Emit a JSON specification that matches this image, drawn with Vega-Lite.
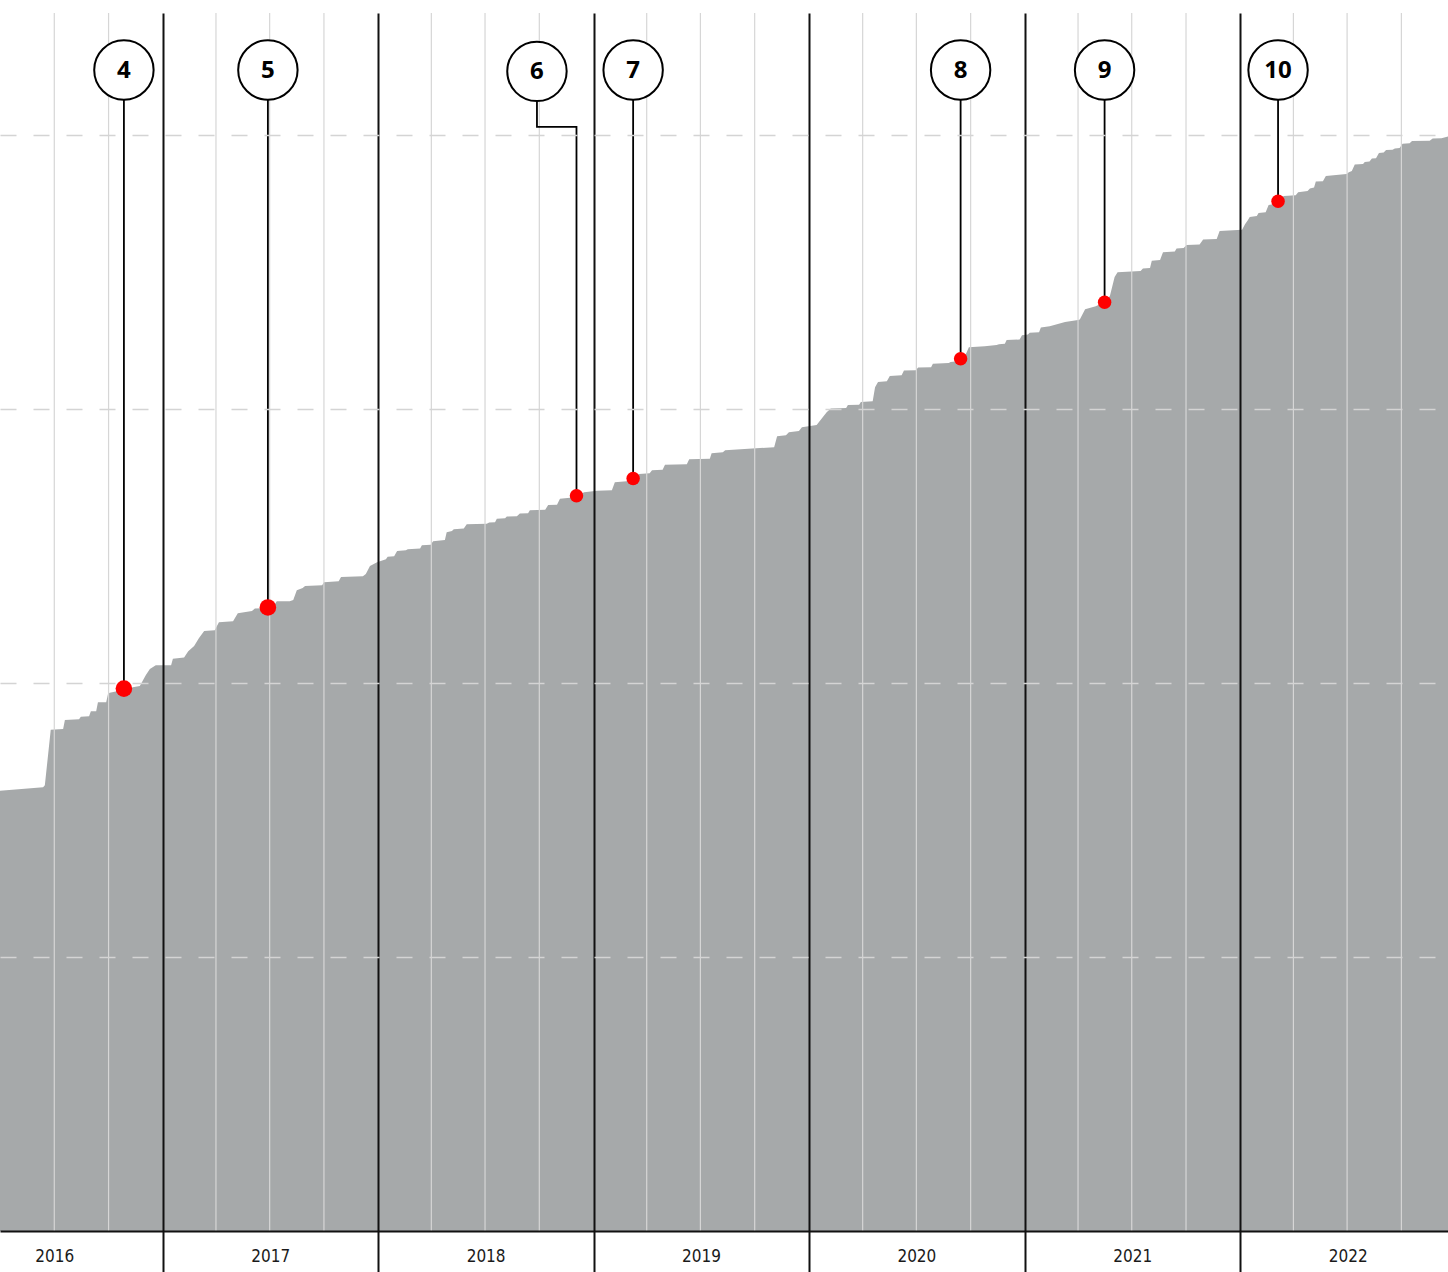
{
  "$schema": "https://vega.github.io/schema/vega-lite/v6.json",
  "autosize": {"type": "none"},
  "width": 1448,
  "height": 1218,
  "padding": {"left": 0, "right": 0, "top": 13, "bottom": 41},
  "background": "white",
  "config": {"view": {"stroke": null}},
  "datasets": {
    "curve": [
      {"date":"2016-03-31","value":1607},{"date":"2016-06-12","value":1620},{"date":"2016-06-15","value":1627},{"date":"2016-06-25","value":1830},
      {"date":"2016-07-16","value":1832},{"date":"2016-07-19","value":1865},{"date":"2016-08-12","value":1868},{"date":"2016-08-15","value":1877},
      {"date":"2016-08-29","value":1879},{"date":"2016-09-01","value":1897},{"date":"2016-09-10","value":1897},{"date":"2016-09-13","value":1930},
      {"date":"2016-09-27","value":1930},{"date":"2016-09-30","value":1960},{"date":"2016-10-03","value":1965},{"date":"2016-10-15","value":1970},
      {"date":"2016-10-27","value":1980},{"date":"2016-11-08","value":1981},{"date":"2016-11-11","value":1985},{"date":"2016-11-23","value":1989},
      {"date":"2016-12-03","value":2029},{"date":"2016-12-10","value":2051},{"date":"2016-12-20","value":2065},{"date":"2017-01-15","value":2065},
      {"date":"2017-01-18","value":2089},{"date":"2017-02-06","value":2093},{"date":"2017-02-13","value":2116},{"date":"2017-02-23","value":2135},
      {"date":"2017-03-03","value":2164},{"date":"2017-03-12","value":2190},{"date":"2017-03-30","value":2193},{"date":"2017-04-06","value":2222},
      {"date":"2017-04-30","value":2226},{"date":"2017-05-08","value":2255},{"date":"2017-06-01","value":2263},{"date":"2017-06-06","value":2272},
      {"date":"2017-06-20","value":2273},{"date":"2017-07-02","value":2277},{"date":"2017-07-08","value":2281},{"date":"2017-07-13","value":2299},
      {"date":"2017-08-04","value":2299},{"date":"2017-08-10","value":2303},{"date":"2017-08-16","value":2339},{"date":"2017-08-26","value":2347},
      {"date":"2017-08-30","value":2354},{"date":"2017-09-28","value":2357},{"date":"2017-10-01","value":2368},{"date":"2017-10-26","value":2372},
      {"date":"2017-10-30","value":2387},{"date":"2017-12-06","value":2390},{"date":"2017-12-11","value":2398},{"date":"2017-12-18","value":2427},
      {"date":"2017-12-30","value":2441},{"date":"2018-01-14","value":2452},{"date":"2018-01-17","value":2461},{"date":"2018-01-28","value":2463},
      {"date":"2018-02-02","value":2482},{"date":"2018-02-17","value":2485},{"date":"2018-02-20","value":2489},{"date":"2018-03-13","value":2491},
      {"date":"2018-03-16","value":2503},{"date":"2018-03-31","value":2505},{"date":"2018-04-04","value":2518},{"date":"2018-04-24","value":2522},
      {"date":"2018-04-27","value":2551},{"date":"2018-05-06","value":2555},{"date":"2018-05-09","value":2562},{"date":"2018-05-26","value":2564},
      {"date":"2018-05-31","value":2580},{"date":"2018-07-04","value":2582},{"date":"2018-07-08","value":2586},{"date":"2018-07-18","value":2587},
      {"date":"2018-07-21","value":2600},{"date":"2018-08-04","value":2602},{"date":"2018-08-07","value":2608},{"date":"2018-08-24","value":2609},
      {"date":"2018-08-29","value":2619},{"date":"2018-09-12","value":2620},{"date":"2018-09-15","value":2631},{"date":"2018-10-11","value":2633},
      {"date":"2018-10-16","value":2650},{"date":"2018-10-31","value":2651},{"date":"2018-11-05","value":2673},{"date":"2018-11-22","value":2677},
      {"date":"2018-12-04","value":2684},{"date":"2018-12-16","value":2697},{"date":"2019-01-07","value":2702},{"date":"2019-02-01","value":2704},
      {"date":"2019-02-06","value":2733},{"date":"2019-02-26","value":2737},{"date":"2019-03-09","value":2746},{"date":"2019-03-19","value":2763},
      {"date":"2019-04-06","value":2766},{"date":"2019-04-10","value":2777},{"date":"2019-04-28","value":2779},{"date":"2019-05-02","value":2797},
      {"date":"2019-06-08","value":2799},{"date":"2019-06-12","value":2817},{"date":"2019-07-17","value":2819},{"date":"2019-07-20","value":2839},
      {"date":"2019-08-08","value":2843},{"date":"2019-08-12","value":2850},{"date":"2019-10-10","value":2858},{"date":"2019-11-03","value":2861},
      {"date":"2019-11-08","value":2901},{"date":"2019-11-23","value":2905},{"date":"2019-11-28","value":2916},{"date":"2019-12-15","value":2920},
      {"date":"2019-12-20","value":2934},{"date":"2020-01-03","value":2938},{"date":"2020-01-14","value":2942},{"date":"2020-01-23","value":2967},
      {"date":"2020-01-31","value":2989},{"date":"2020-02-07","value":3002},{"date":"2020-03-04","value":3004},{"date":"2020-03-07","value":3015},
      {"date":"2020-03-26","value":3016},{"date":"2020-03-29","value":3026},{"date":"2020-04-18","value":3029},{"date":"2020-04-22","value":3080},
      {"date":"2020-04-27","value":3099},{"date":"2020-05-12","value":3102},{"date":"2020-05-17","value":3121},{"date":"2020-06-06","value":3124},
      {"date":"2020-06-10","value":3141},{"date":"2020-06-30","value":3142},{"date":"2020-07-04","value":3152},{"date":"2020-07-26","value":3153},
      {"date":"2020-07-29","value":3166},{"date":"2020-08-25","value":3168},{"date":"2020-08-28","value":3172},{"date":"2020-09-09","value":3175},
      {"date":"2020-09-14","value":3184},{"date":"2020-09-23","value":3201},{"date":"2020-09-28","value":3226},{"date":"2020-10-25","value":3230},
      {"date":"2020-11-14","value":3234},{"date":"2020-11-18","value":3237},{"date":"2020-11-28","value":3239},{"date":"2020-12-01","value":3252},
      {"date":"2020-12-23","value":3254},{"date":"2020-12-27","value":3270},{"date":"2021-01-06","value":3272},{"date":"2021-01-09","value":3279},
      {"date":"2021-01-25","value":3281},{"date":"2021-01-28","value":3298},{"date":"2021-02-12","value":3303},{"date":"2021-03-10","value":3318},
      {"date":"2021-04-01","value":3325},{"date":"2021-04-04","value":3327},{"date":"2021-04-13","value":3365},{"date":"2021-05-01","value":3376},
      {"date":"2021-05-16","value":3391},{"date":"2021-05-25","value":3413},{"date":"2021-06-02","value":3482},{"date":"2021-06-07","value":3500},
      {"date":"2021-07-16","value":3504},{"date":"2021-07-20","value":3513},{"date":"2021-08-01","value":3515},{"date":"2021-08-04","value":3542},
      {"date":"2021-08-18","value":3544},{"date":"2021-08-23","value":3573},{"date":"2021-09-12","value":3575},{"date":"2021-09-15","value":3586},
      {"date":"2021-09-27","value":3588},{"date":"2021-10-02","value":3599},{"date":"2021-10-24","value":3601},{"date":"2021-10-30","value":3619},
      {"date":"2021-11-22","value":3621},{"date":"2021-11-27","value":3650},{"date":"2022-01-04","value":3655},{"date":"2022-01-09","value":3675},
      {"date":"2022-01-14","value":3690},{"date":"2022-01-17","value":3701},{"date":"2022-01-29","value":3705},{"date":"2022-02-01","value":3716},
      {"date":"2022-02-13","value":3719},{"date":"2022-02-18","value":3745},{"date":"2022-02-23","value":3747},{"date":"2022-03-06","value":3759},
      {"date":"2022-03-16","value":3778},{"date":"2022-04-05","value":3781},{"date":"2022-04-09","value":3792},{"date":"2022-04-25","value":3796},
      {"date":"2022-04-29","value":3805},{"date":"2022-05-06","value":3809},{"date":"2022-05-09","value":3831},{"date":"2022-05-21","value":3832},
      {"date":"2022-05-26","value":3851},{"date":"2022-06-30","value":3858},{"date":"2022-07-04","value":3865},{"date":"2022-07-09","value":3869},
      {"date":"2022-07-14","value":3893},{"date":"2022-07-28","value":3895},{"date":"2022-07-31","value":3902},{"date":"2022-08-08","value":3904},
      {"date":"2022-08-12","value":3915},{"date":"2022-08-19","value":3916},{"date":"2022-08-24","value":3935},{"date":"2022-09-01","value":3937},
      {"date":"2022-09-05","value":3946},{"date":"2022-09-16","value":3947},{"date":"2022-09-20","value":3951},{"date":"2022-09-28","value":3953},
      {"date":"2022-10-03","value":3969},{"date":"2022-10-15","value":3971},{"date":"2022-10-19","value":3979},{"date":"2022-11-18","value":3980},
      {"date":"2022-11-23","value":3988},{"date":"2022-12-08","value":3989},{"date":"2022-12-19","value":3995}
    ],
    "quarters": [
      {"date":"2016-07-01"},{"date":"2016-10-01"},
      {"date":"2017-04-01"},{"date":"2017-07-01"},{"date":"2017-10-01"},
      {"date":"2018-04-01"},{"date":"2018-07-01"},{"date":"2018-10-01"},
      {"date":"2019-04-01"},{"date":"2019-07-01"},{"date":"2019-10-01"},
      {"date":"2020-04-01"},{"date":"2020-07-01"},{"date":"2020-10-01"},
      {"date":"2021-04-01"},{"date":"2021-07-01"},{"date":"2021-10-01"},
      {"date":"2022-04-01"},{"date":"2022-07-01"},{"date":"2022-10-01"}
    ],
    "events": [
      {"label":"4","date":"2016-10-27","value":1980,"label_date":"2016-10-27","label_value":4238},
      {"label":"5","date":"2017-06-28","value":2276,"label_date":"2017-06-28","label_value":4238},
      {"label":"6","date":"2018-12-03","value":2684,"label_date":"2018-09-27","label_value":4233},
      {"label":"7","date":"2019-03-09","value":2747,"label_date":"2019-03-09","label_value":4238},
      {"label":"8","date":"2020-09-14","value":3184,"label_date":"2020-09-14","label_value":4238},
      {"label":"9","date":"2021-05-16","value":3390,"label_date":"2021-05-16","label_value":4238},
      {"label":"10","date":"2022-03-06","value":3759,"label_date":"2022-03-06","label_value":4238}
    ],
    "connectors": [
      {"label":"4","seq":1,"date":"2016-10-27","value":4238},{"label":"4","seq":2,"date":"2016-10-27","value":1980},
      {"label":"5","seq":1,"date":"2017-06-28","value":4238},{"label":"5","seq":2,"date":"2017-06-28","value":2276},
      {"label":"6","seq":1,"date":"2018-09-27","value":4233},{"label":"6","seq":2,"date":"2018-09-27","value":4030},
      {"label":"6","seq":3,"date":"2018-12-03","value":4030},{"label":"6","seq":4,"date":"2018-12-03","value":2684},
      {"label":"7","seq":1,"date":"2019-03-09","value":4238},{"label":"7","seq":2,"date":"2019-03-09","value":2747},
      {"label":"8","seq":1,"date":"2020-09-14","value":4238},{"label":"8","seq":2,"date":"2020-09-14","value":3184},
      {"label":"9","seq":1,"date":"2021-05-16","value":4238},{"label":"9","seq":2,"date":"2021-05-16","value":3390},
      {"label":"10","seq":1,"date":"2022-03-06","value":4238},{"label":"10","seq":2,"date":"2022-03-06","value":3759}
    ]
  },
  "resolve": {"axis": {"x": "independent", "y": "independent"}},
  "layer": [
    {
      "data": {"name": "curve"},
      "mark": {"type": "area", "color": "#a6a9aa", "clip": true, "interpolate": "linear"},
      "encoding": {
        "x": {"field": "date", "type": "temporal",
          "scale": {"type": "utc", "nice": false, "domain": [{"year":2016,"month":3,"date":31,"utc":true},{"year":2022,"month":12,"date":19,"utc":true}]},
          "axis": {"orient": "bottom", "title": null, "zindex": 1,
            "values": [{"year":2017,"month":1,"date":1,"utc":true},{"year":2018,"month":1,"date":1,"utc":true},{"year":2019,"month":1,"date":1,"utc":true},{"year":2020,"month":1,"date":1,"utc":true},{"year":2021,"month":1,"date":1,"utc":true},{"year":2022,"month":1,"date":1,"utc":true}],
            "grid": true, "gridColor": "#111111", "gridWidth": 2, "gridOpacity": 1,
            "ticks": true, "tickSize": 41, "tickColor": "#111111", "tickWidth": 2,
            "labels": false, "domain": true, "domainColor": "#111111", "domainWidth": 2}},
        "y": {"field": "value", "type": "quantitative",
          "scale": {"domain": [0, 4446], "nice": false, "zero": true},
          "axis": {"orient": "left", "title": null, "zindex": 1, "values": [1000, 2000, 3000, 4000],
            "grid": true, "gridColor": "#d4d4d4", "gridDash": [16, 17], "gridWidth": 1.5,
            "ticks": false, "labels": false, "domain": false}}
      }
    },
    {
      "data": {"name": "quarters"},
      "mark": {"type": "rule", "color": "#d6d6d6", "strokeWidth": 1.2},
      "encoding": {
        "x": {"field": "date", "type": "temporal",
          "scale": {"type": "utc", "nice": false, "domain": [{"year":2016,"month":3,"date":31,"utc":true},{"year":2022,"month":12,"date":19,"utc":true}]},
          "axis": {"orient": "bottom", "title": null, "format": "%Y",
            "values": [{"year":2016,"month":7,"date":1,"utc":true},{"year":2017,"month":7,"date":2,"utc":true},{"year":2018,"month":7,"date":2,"utc":true},{"year":2019,"month":7,"date":2,"utc":true},{"year":2020,"month":7,"date":1,"utc":true},{"year":2021,"month":7,"date":2,"utc":true},{"year":2022,"month":7,"date":2,"utc":true}],
            "grid": false, "ticks": false, "domain": false, "labels": true,
            "labelFont": "DejaVu Sans Condensed", "labelFontSize": 17, "labelColor": "#1a1a1a",
            "labelPadding": 17, "labelFlush": false, "labelOverlap": false, "labelAngle": 0, "labelBound": false}}
      }
    },
    {
      "data": {"name": "connectors"},
      "mark": {"type": "line", "color": "#000000", "strokeWidth": 1.8, "interpolate": "linear"},
      "encoding": {
        "x": {"field": "date", "type": "temporal", "axis": null,
          "scale": {"type": "utc", "nice": false, "domain": [{"year":2016,"month":3,"date":31,"utc":true},{"year":2022,"month":12,"date":19,"utc":true}]}},
        "y": {"field": "value", "type": "quantitative", "axis": null, "scale": {"domain": [0, 4446], "nice": false, "zero": true}},
        "detail": {"field": "label", "type": "nominal"},
        "order": {"field": "seq", "type": "quantitative"}
      }
    },
    {
      "data": {"name": "events"},
      "mark": {"type": "point", "shape": "circle", "filled": true, "color": "#ff0000", "opacity": 1},
      "encoding": {
        "x": {"field": "date", "type": "temporal", "axis": null,
          "scale": {"type": "utc", "nice": false, "domain": [{"year":2016,"month":3,"date":31,"utc":true},{"year":2022,"month":12,"date":19,"utc":true}]}},
        "y": {"field": "value", "type": "quantitative", "axis": null, "scale": {"domain": [0, 4446], "nice": false, "zero": true}},
        "size": {"condition": {"test": "datum.label === '4' || datum.label === '5'", "value": 276}, "value": 182}
      }
    },
    {
      "data": {"name": "events"},
      "mark": {"type": "point", "shape": "circle", "filled": false, "fill": "#ffffff", "fillOpacity": 1, "stroke": "#000000", "strokeWidth": 2, "size": 3530, "opacity": 1},
      "encoding": {
        "x": {"field": "label_date", "type": "temporal", "axis": null,
          "scale": {"type": "utc", "nice": false, "domain": [{"year":2016,"month":3,"date":31,"utc":true},{"year":2022,"month":12,"date":19,"utc":true}]}},
        "y": {"field": "label_value", "type": "quantitative", "axis": null, "scale": {"domain": [0, 4446], "nice": false, "zero": true}}
      }
    },
    {
      "data": {"name": "events"},
      "mark": {"type": "text", "font": "Open Sans", "fontWeight": "bold", "fontSize": 24, "align": "center", "baseline": "middle", "dy": 1, "color": "#000000"},
      "encoding": {
        "x": {"field": "label_date", "type": "temporal", "axis": null,
          "scale": {"type": "utc", "nice": false, "domain": [{"year":2016,"month":3,"date":31,"utc":true},{"year":2022,"month":12,"date":19,"utc":true}]}},
        "y": {"field": "label_value", "type": "quantitative", "axis": null, "scale": {"domain": [0, 4446], "nice": false, "zero": true}},
        "text": {"field": "label", "type": "nominal"}
      }
    }
  ]
}
